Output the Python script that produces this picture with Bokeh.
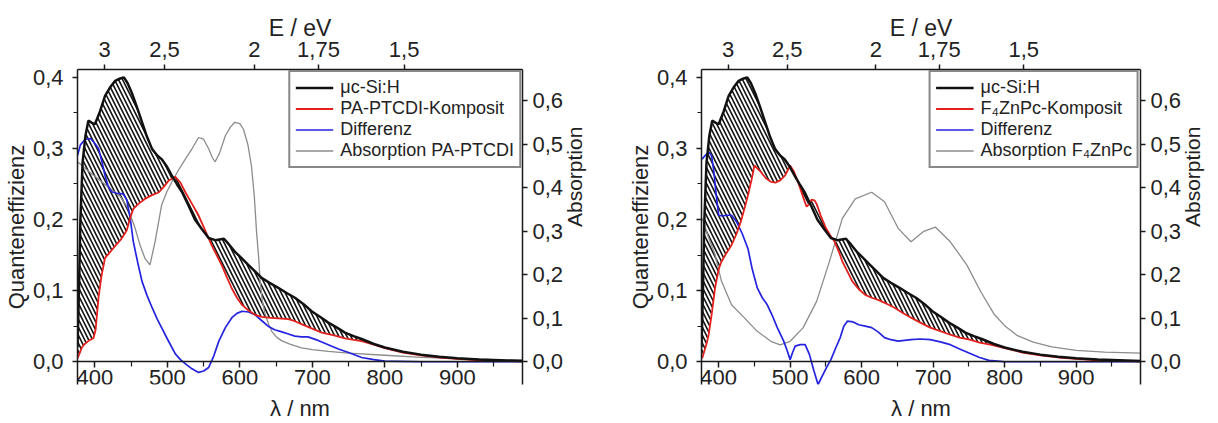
import math
from bokeh.plotting import figure
from bokeh.models import (Range1d, LinearAxis, FixedTicker, CustomJSTickFormatter,
                          Legend, LegendItem)
from bokeh.layouts import row
from bokeh.embed import file_html
from bokeh.resources import INLINE

FONT = "Liberation Sans"

# ---------------- data ----------------
# μc-Si:H reference cell (same in both panels)
lam_si = [376, 378, 380, 383, 387, 391, 396, 400, 407, 414, 421, 428, 434, 440, 445, 451, 458,
          465, 472, 479, 486, 492, 499, 506, 513, 520, 529, 538, 548, 557, 566, 572, 578, 585,
          593, 602, 612, 621, 630, 641, 653, 664, 676, 688, 699, 711, 722, 734, 745, 757, 768,
          785, 800, 825, 850, 875, 900, 930, 960, 990]
qe_si = [0.02, 0.1, 0.2, 0.28, 0.318, 0.339, 0.336, 0.334, 0.352, 0.374, 0.386, 0.395, 0.398,
         0.400, 0.392, 0.378, 0.358, 0.337, 0.316, 0.299, 0.29, 0.285, 0.275, 0.262, 0.25, 0.239,
         0.22, 0.2, 0.186, 0.174, 0.171, 0.172, 0.173, 0.165, 0.155, 0.146, 0.136, 0.127, 0.118,
         0.111, 0.104, 0.097, 0.09, 0.081, 0.071, 0.063, 0.055, 0.048, 0.041, 0.036, 0.032,
         0.025, 0.02, 0.014, 0.01, 0.007, 0.005, 0.003, 0.002, 0.001]

# left panel: PA-PTCDI
lam_c1 = [376, 379, 382, 386, 392, 398, 401, 405, 409, 414, 420, 428, 436, 444, 448, 453, 460,
          469, 478, 488, 495, 502, 511, 518, 525, 534, 543, 552, 561, 568, 575, 582, 589, 596,
          603, 612, 621, 630, 639, 653, 667, 676, 685, 699, 713, 730, 745, 768, 785, 800, 825,
          850, 875, 900, 930, 960, 990]
qe_c1 = [0.005, 0.012, 0.02, 0.025, 0.03, 0.033, 0.045, 0.09, 0.12, 0.146, 0.153, 0.163, 0.172,
         0.185, 0.2, 0.215, 0.222, 0.229, 0.234, 0.238, 0.246, 0.255, 0.26, 0.252, 0.238, 0.222,
         0.206, 0.185, 0.164, 0.15, 0.136, 0.119, 0.103, 0.09, 0.08, 0.072, 0.066, 0.063, 0.062,
         0.061, 0.06, 0.057, 0.053, 0.047, 0.041, 0.037, 0.033, 0.029, 0.024, 0.019, 0.013,
         0.009, 0.006, 0.004, 0.002, 0.001, 0.0005]
lam_d1 = [376, 380, 387, 394, 400, 405, 410, 414, 418, 423, 430, 439, 444, 449, 453, 459, 465,
          472, 479, 486, 492, 500, 511, 518, 525, 534, 543, 550, 557, 564, 571, 580, 589, 596,
          603, 612, 621, 630, 639, 648, 658, 667, 676, 685, 694, 708, 722, 736, 750, 768, 785,
          800, 850, 900, 950, 990]
qe_d1 = [0.29, 0.305, 0.313, 0.314, 0.307, 0.3, 0.28, 0.262, 0.248, 0.239, 0.237, 0.236, 0.228,
         0.2, 0.169, 0.14, 0.113, 0.093, 0.076, 0.06, 0.048, 0.032, 0.011, 0.003, -0.003, -0.01,
         -0.015, -0.013, -0.008, 0.008, 0.029, 0.048, 0.062, 0.068, 0.071, 0.07, 0.066, 0.058,
         0.05, 0.045, 0.042, 0.039, 0.036, 0.035, 0.035, 0.03, 0.024, 0.018, 0.013, 0.006,
         0.003, 0.001, 0.0, 0.0, 0.0, 0.0]
lam_a1 = [376, 390, 405, 420, 435, 445, 455, 462, 469, 476, 483, 492, 499, 506, 515, 525, 534,
          543, 550, 557, 562, 566, 572, 580, 587, 593, 600, 605, 611, 616, 620, 623, 626, 628,
          631, 635, 640, 644, 651, 658, 670, 685, 700, 722, 750, 800, 850, 900, 950, 990]
ab_1 = [0.46, 0.44, 0.42, 0.40, 0.38, 0.355, 0.31, 0.27, 0.238, 0.223, 0.276, 0.36, 0.39, 0.413,
        0.44, 0.467, 0.49, 0.516, 0.512, 0.49, 0.47, 0.46, 0.48, 0.52, 0.54, 0.551, 0.548, 0.535,
        0.5, 0.451, 0.38, 0.30, 0.24, 0.185, 0.14, 0.109, 0.085, 0.07, 0.056, 0.048, 0.04,
        0.032, 0.028, 0.024, 0.02, 0.015, 0.01, 0.007, 0.005, 0.004]

# right panel: F4ZnPc
lam_c2 = [377, 380, 383, 386, 390, 395, 400, 404, 411, 418, 425, 431, 436, 441, 446, 450, 454,
          459, 466, 473, 480, 486, 493, 500, 505, 511, 517, 523, 527, 530, 534, 537, 543, 550,
          556, 562, 568, 573, 580, 587, 596, 605, 614, 623, 634, 646, 657, 669, 682, 696, 710,
          724, 737, 751, 765, 780, 800, 825, 850, 875, 900, 930, 960, 990]
qe_c2 = [0.005, 0.015, 0.025, 0.038, 0.065, 0.104, 0.13, 0.141, 0.153, 0.164, 0.18, 0.197, 0.215,
         0.234, 0.256, 0.276, 0.272, 0.267, 0.258, 0.253, 0.252, 0.255, 0.262, 0.276, 0.268,
         0.253, 0.235, 0.218, 0.222, 0.228, 0.227, 0.222, 0.205, 0.188, 0.178, 0.169, 0.155,
         0.141, 0.127, 0.113, 0.102, 0.094, 0.09, 0.087, 0.082, 0.076, 0.069, 0.062, 0.055,
         0.048, 0.043, 0.038, 0.034, 0.031, 0.027, 0.024, 0.019, 0.013, 0.009, 0.006, 0.004,
         0.002, 0.001, 0.0005]
lam_d2 = [377, 381, 386, 390, 393, 396, 400, 405, 411, 418, 425, 433, 441, 447, 454, 461, 468,
          475, 482, 491, 496, 500, 503, 507, 514, 521, 527, 533, 539, 545, 551, 557, 564, 570,
          575, 580, 588, 596, 605, 614, 623, 632, 641, 651, 660, 669, 682, 696, 710, 724, 737,
          751, 765, 778, 790, 800, 850, 900, 950, 990]
qe_d2 = [0.285, 0.29, 0.295, 0.29, 0.27, 0.24, 0.206, 0.205, 0.206, 0.206, 0.197, 0.18, 0.159,
         0.13, 0.104, 0.09, 0.08, 0.065, 0.048, 0.029, 0.015, 0.003, 0.012, 0.022, 0.024, 0.024,
         0.01, -0.012, -0.032, -0.02, -0.008, 0.003, 0.02, 0.034, 0.05, 0.057, 0.056, 0.052,
         0.05, 0.048, 0.042, 0.034, 0.031, 0.029, 0.03, 0.031, 0.032, 0.031, 0.028, 0.024,
         0.018, 0.012, 0.006, 0.002, 0.001, 0.0, 0.0, 0.0, 0.0, 0.0]
lam_a2 = [377, 385, 395, 404, 418, 436, 454, 473, 486, 500, 518, 537, 555, 573, 591, 614, 632,
          651, 669, 687, 703, 724, 747, 767, 785, 800, 818, 840, 866, 900, 940, 990]
ab_2 = [0.33, 0.29, 0.246, 0.185, 0.131, 0.101, 0.07, 0.047, 0.039, 0.047, 0.078, 0.139, 0.231,
        0.33, 0.375, 0.39, 0.368, 0.307, 0.276, 0.3, 0.31, 0.276, 0.223, 0.16, 0.11, 0.083,
        0.06, 0.045, 0.034, 0.026, 0.022, 0.02]

# axes
X_TICKS = [400, 500, 600, 700, 800, 900]
X_MINOR = [450, 550, 650, 750, 850, 950]
QE_TICKS = [0.0, 0.1, 0.2, 0.3, 0.4]
QE_MINOR = [0.05, 0.15, 0.25, 0.35]
AB_TICKS = [0.0, 0.1, 0.2, 0.3, 0.4, 0.5, 0.6]
E_TICKS = [3.0, 2.5, 2.0, 1.75, 1.5]

LABELS_1 = ["μc-Si:H", "PA-PTCDI-Komposit", "Differenz", "Absorption PA-PTCDI"]
LABELS_2 = ["μc-Si:H", "F₄ZnPc-Komposit", "Differenz", "Absorption F₄ZnPc"]

C_SI, C_RED, C_BLUE, C_GRAY = "#111111", "#e3201c", "#2424e0", "#8c8c8c"
AX = "#1a1a1a"
Y_MIN, Y_MAX = -0.032, 0.411
SCALE_AB = 715.0 / 437.0

comma1 = "return tick.toFixed(1).replace('.', ',');"


def style_axis(ax, label_size="22px"):
    ax.axis_line_width = 1.5
    ax.axis_line_color = AX
    ax.major_tick_line_color = AX
    ax.minor_tick_line_color = AX
    ax.major_tick_line_width = 1.5
    ax.minor_tick_line_width = 1.2
    ax.major_tick_in = 0
    ax.major_tick_out = 5
    ax.minor_tick_in = 0
    ax.minor_tick_out = 4
    ax.major_label_text_font = FONT
    ax.major_label_text_font_size = label_size
    ax.major_label_text_color = "#222222"
    ax.axis_label_text_font = FONT
    ax.axis_label_text_font_style = "normal"
    ax.axis_label_text_color = "#222222"


def make_panel(width, bl, br, lam_c, qe_c, lam_d, qe_d, lam_a, ab, labels):
    p = figure(width=width, height=423, x_range=Range1d(376, 990),
               y_range=Range1d(Y_MIN, Y_MAX), output_backend="svg",
               toolbar_location=None, min_border_left=bl, min_border_right=br,
               min_border_top=69, min_border_bottom=36)
    p.outline_line_color = None
    p.xgrid.visible = False
    p.ygrid.visible = False
    p.extra_y_ranges = {"abs": Range1d(Y_MIN * SCALE_AB, Y_MAX * SCALE_AB)}

    # bottom axis sits on y = 0
    xa = p.xaxis[0]
    xa.fixed_location = 0
    xa.ticker = FixedTicker(ticks=X_TICKS, minor_ticks=X_MINOR)
    xa.formatter = CustomJSTickFormatter(code="return tick.toFixed(0);")
    style_axis(xa)
    xa.major_tick_out = 6
    xa.minor_tick_out = 5
    xa.major_label_standoff = 2

    # axis title for wavelength, below the frame
    xt = LinearAxis(ticker=FixedTicker(ticks=[], minor_ticks=[]), axis_label="λ / nm")
    style_axis(xt)
    xt.axis_line_color = None
    xt.major_tick_out = 0
    xt.minor_tick_out = 0
    xt.major_label_text_font_size = "0px"
    xt.major_label_standoff = 0
    xt.axis_label_standoff = 11
    xt.axis_label_text_font_size = "22px"
    p.add_layout(xt, "below")

    ya = p.yaxis[0]
    ya.ticker = FixedTicker(ticks=QE_TICKS, minor_ticks=QE_MINOR)
    ya.formatter = CustomJSTickFormatter(code=comma1)
    ya.axis_label = "Quanteneffizienz"
    style_axis(ya)
    ya.major_label_standoff = 9
    ya.axis_label_standoff = 1
    ya.axis_label_text_font_size = "22px"

    ra = LinearAxis(y_range_name="abs", axis_label="Absorption",
                    ticker=FixedTicker(ticks=AB_TICKS, minor_ticks=[]),
                    formatter=CustomJSTickFormatter(code=comma1))
    style_axis(ra)
    ra.major_label_standoff = 5
    ra.axis_label_standoff = 8
    ra.axis_label_text_font_size = "21px"
    try:
        ra.axis_label_orientation = math.pi / 2
    except Exception:
        pass
    p.add_layout(ra, "right")

    ta = LinearAxis(axis_label="E / eV",
                    ticker=FixedTicker(ticks=[1240.0 / e for e in E_TICKS], minor_ticks=[]),
                    formatter=CustomJSTickFormatter(
                        code="const e = Math.round(124000/tick)/100; return String(e).replace('.', ',');"))
    style_axis(ta)
    ta.major_label_standoff = 8
    ta.axis_label_standoff = -2
    ta.axis_label_text_font_size = "23px"
    p.add_layout(ta, "above")

    # hatched region between reference cell and composite
    p.patch(x=list(lam_si) + list(lam_c[::-1]), y=list(qe_si) + list(qe_c[::-1]),
            fill_color=None, line_color=None, hatch_pattern="\\", hatch_color="#111111",
            hatch_scale=8, hatch_weight=1.6)

    r_a = p.line(lam_a, ab, y_range_name="abs", line_color=C_GRAY, line_width=1.3)
    r_d = p.line(lam_d, qe_d, line_color=C_BLUE, line_width=1.7)
    r_c = p.line(lam_c, qe_c, line_color=C_RED, line_width=1.8)
    r_s = p.line(lam_si, qe_si, line_color=C_SI, line_width=2.5)

    items = [LegendItem(label=labels[0], renderers=[r_s]),
             LegendItem(label=labels[1], renderers=[r_c]),
             LegendItem(label=labels[2], renderers=[r_d]),
             LegendItem(label=labels[3], renderers=[r_a])]
    leg = Legend(items=items, location="top_right", margin=1, padding=5, spacing=0,
                 glyph_width=38, glyph_height=19, label_height=19, label_standoff=7,
                 label_text_font=FONT, label_text_font_size="18px",
                 label_text_color="#222222", border_line_color="#111111",
                 border_line_width=2.5, background_fill_color="white",
                 background_fill_alpha=1.0)
    p.add_layout(leg)
    return p


p1 = make_panel(612, 75, 90, lam_c1, qe_c1, lam_d1, qe_d1, lam_a1, ab_1, LABELS_1)
p2 = make_panel(606, 89, 71, lam_c2, qe_c2, lam_d2, qe_d2, lam_a2, ab_2, LABELS_2)

layout = row(p1, p2, spacing=0)
open("out.html", "w").write(file_html(layout, INLINE))
